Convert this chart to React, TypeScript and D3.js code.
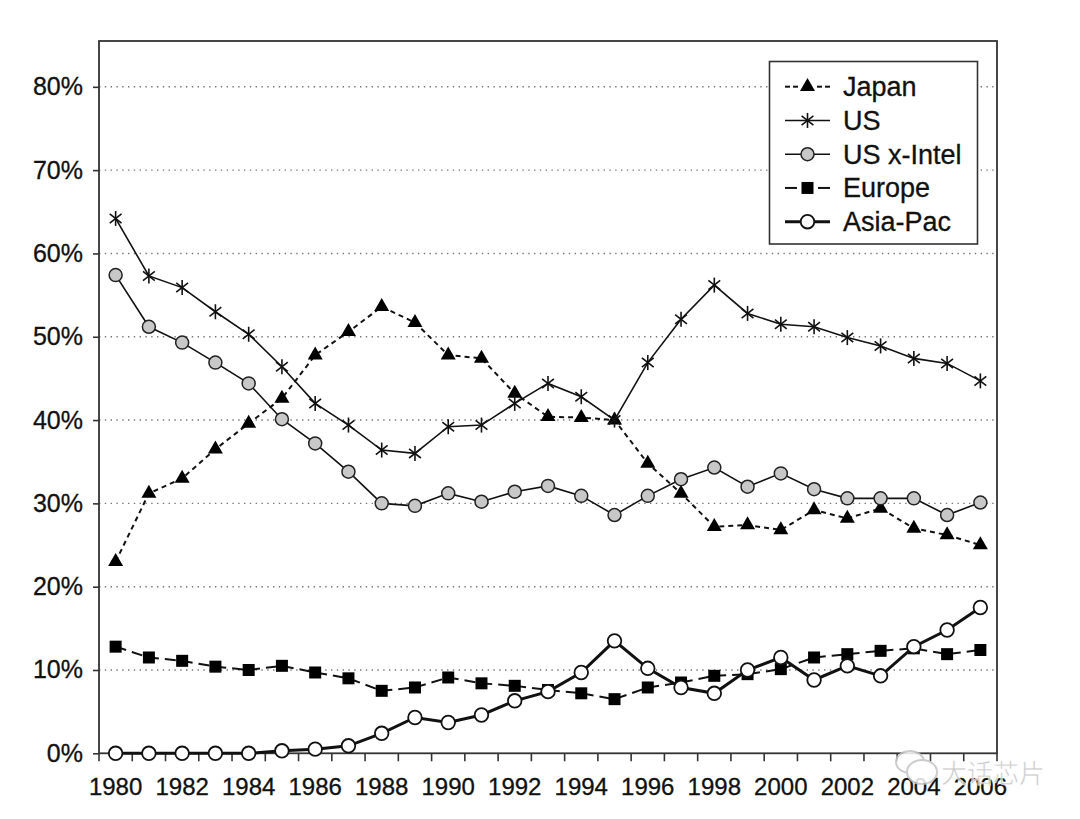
import React, { useEffect, useRef } from "react";
import * as d3 from "d3";

const years = [
  "1980", "1981", "1982", "1983", "1984", "1985", "1986", "1987", "1988",
  "1989", "1990", "1991", "1992", "1993", "1994", "1995", "1996", "1997",
  "1998", "1999", "2000", "2001", "2002", "2003", "2004", "2005", "2006",
];
const yearLabels = years.filter((_, i) => i % 2 === 0);
const yTicks = [0, 0.1, 0.2, 0.3, 0.4, 0.5, 0.6, 0.7, 0.8];

// share of world semiconductor sales, percent
const japan = [23.0, 31.2, 33.0, 36.5, 39.6, 42.6, 47.8, 50.6, 53.6, 51.7, 47.8, 47.4, 43.2, 40.4, 40.3, 40.0, 34.8, 31.2, 27.2, 27.4, 26.8, 29.2, 28.2, 29.4, 27.0, 26.2, 25.0];
const us = [64.2, 57.3, 55.9, 53.0, 50.3, 46.4, 42.0, 39.4, 36.4, 36.0, 39.2, 39.4, 42.0, 44.4, 42.8, 40.0, 46.9, 52.1, 56.2, 52.8, 51.5, 51.2, 49.9, 48.9, 47.4, 46.8, 44.7];
const usXIntel = [57.4, 51.2, 49.3, 46.9, 44.4, 40.1, 37.2, 33.8, 30.0, 29.7, 31.2, 30.2, 31.4, 32.1, 30.9, 28.6, 30.9, 32.9, 34.3, 32.0, 33.6, 31.7, 30.6, 30.6, 30.6, 28.6, 30.1];
const europe = [12.8, 11.5, 11.1, 10.4, 10.0, 10.5, 9.7, 9.0, 7.5, 7.9, 9.1, 8.4, 8.1, 7.6, 7.2, 6.5, 7.9, 8.5, 9.3, 9.5, 10.1, 11.5, 11.9, 12.3, 12.6, 11.9, 12.4];
const asiaPac = [0, 0, 0, 0, 0, 0.3, 0.5, 0.9, 2.4, 4.3, 3.7, 4.6, 6.3, 7.4, 9.7, 13.5, 10.2, 7.9, 7.2, 10.0, 11.5, 8.8, 10.5, 9.3, 12.8, 14.8, 17.5];

type Marker = "triangle" | "asterisk" | "grayCircle" | "square" | "whiteCircle";
type Series = {
  name: string;
  values: number[];
  marker: Marker;
  dash: string | null;
  width: number;
};

const series: Series[] = [
  { name: "Japan", values: japan, marker: "triangle", dash: "5,4", width: 2 },
  { name: "US", values: us, marker: "asterisk", dash: null, width: 1.6 },
  { name: "US x-Intel", values: usXIntel, marker: "grayCircle", dash: null, width: 1.6 },
  { name: "Europe", values: europe, marker: "square", dash: "11,6", width: 2 },
  { name: "Asia-Pac", values: asiaPac, marker: "whiteCircle", dash: null, width: 3 },
];

const FONT = "'Liberation Sans', Arial, Helvetica, sans-serif";

const drawMarker = (
  g: d3.Selection<SVGGElement, unknown, null, undefined>,
  kind: Marker,
  cx: number,
  cy: number
) => {
  if (kind === "triangle") {
    const s = 15;
    const h = (s * Math.sqrt(3)) / 2;
    g.append("path")
      .attr(
        "d",
        `M${cx},${cy - (2 * h) / 3}L${cx + s / 2},${cy + h / 3}L${cx - s / 2},${cy + h / 3}Z`
      )
      .attr("fill", "#000");
  } else if (kind === "asterisk") {
    const r = 7.5;
    [90, 38, 142].forEach((a) => {
      const rad = (a * Math.PI) / 180;
      g.append("line")
        .attr("x1", cx - r * Math.cos(rad))
        .attr("y1", cy - r * Math.sin(rad))
        .attr("x2", cx + r * Math.cos(rad))
        .attr("y2", cy + r * Math.sin(rad))
        .attr("stroke", "#111")
        .attr("stroke-width", 1.6);
    });
  } else if (kind === "grayCircle") {
    g.append("circle")
      .attr("cx", cx)
      .attr("cy", cy)
      .attr("r", 6.5)
      .attr("fill", "#c8c8c8")
      .attr("stroke", "#222")
      .attr("stroke-width", 1.5);
  } else if (kind === "square") {
    const s = 12;
    g.append("rect")
      .attr("x", cx - s / 2)
      .attr("y", cy - s / 2)
      .attr("width", s)
      .attr("height", s)
      .attr("fill", "#000");
  } else {
    g.append("circle")
      .attr("cx", cx)
      .attr("cy", cy)
      .attr("r", 6.8)
      .attr("fill", "#fff")
      .attr("stroke", "#111")
      .attr("stroke-width", 1.8);
  }
};

const App: React.FC = () => {
  const svgRef = useRef<SVGSVGElement>(null);
  const width = 1080;
  const height = 819;
  const plot = { left: 99, right: 997, top: 41, bottom: 753.3 };

  useEffect(() => {
    const svg = d3.select(svgRef.current);
    svg.selectAll("*").remove();

    const x = d3.scaleBand().domain(years).range([plot.left, plot.right]);
    const cxOf = (yr: string) => (x(yr) as number) + x.bandwidth() / 2;
    const y = d3.scaleLinear().domain([0, 0.855]).range([plot.bottom, plot.top]);

    // dotted gridlines
    svg.append("g")
      .selectAll("line")
      .data(yTicks.filter((t) => t > 0))
      .enter()
      .append("line")
      .attr("x1", plot.left)
      .attr("x2", plot.right)
      .attr("y1", (d) => y(d))
      .attr("y2", (d) => y(d))
      .attr("stroke", "#777")
      .attr("stroke-width", 1.4)
      .attr("stroke-dasharray", "1.4,4.4");

    // y axis
    const yAxis = svg.append("g")
      .attr("transform", `translate(${plot.left},0)`)
      .call(
        d3.axisLeft(y)
          .tickValues(yTicks)
          .tickFormat(d3.format(".0%"))
          .tickSize(6)
          .tickPadding(10)
      );
    yAxis.select(".domain").remove();
    yAxis.selectAll("line").attr("stroke", "#333").attr("stroke-width", 1.6);
    yAxis.selectAll("text")
      .attr("font-family", FONT)
      .attr("font-size", 25)
      .attr("fill", "#111")
      .attr("stroke", "#111")
      .attr("stroke-width", 0.3);

    // x ticks on band edges
    const edges = years.map((yr) => x(yr) as number).concat([plot.right]);
    svg.append("g")
      .selectAll("line")
      .data(edges)
      .enter()
      .append("line")
      .attr("x1", (d) => d)
      .attr("x2", (d) => d)
      .attr("y1", plot.bottom)
      .attr("y2", plot.bottom + 8)
      .attr("stroke", "#333")
      .attr("stroke-width", 1.6);

    svg.append("g")
      .selectAll("text")
      .data(yearLabels)
      .enter()
      .append("text")
      .attr("x", (d) => cxOf(d))
      .attr("y", 795)
      .attr("text-anchor", "middle")
      .attr("font-family", FONT)
      .attr("font-size", 24)
      .attr("fill", "#111")
      .attr("stroke", "#111")
      .attr("stroke-width", 0.3)
      .text((d) => d);

    // frame
    svg.append("rect")
      .attr("x", plot.left)
      .attr("y", plot.top)
      .attr("width", plot.right - plot.left)
      .attr("height", plot.bottom - plot.top)
      .attr("fill", "none")
      .attr("stroke", "#333")
      .attr("stroke-width", 1.8);

    // series
    series.forEach((s) => {
      const g = svg.append("g");
      const line = d3.line<number>()
        .x((_, i) => cxOf(years[i]))
        .y((d) => y(d / 100));
      g.append("path")
        .datum(s.values)
        .attr("d", line)
        .attr("fill", "none")
        .attr("stroke", "#111")
        .attr("stroke-width", s.width)
        .attr("stroke-dasharray", s.dash ?? null);
      s.values.forEach((v, i) => drawMarker(g, s.marker, cxOf(years[i]), y(v / 100)));
    });

    // legend
    const lg = svg.append("g");
    lg.append("rect")
      .attr("x", 769.5)
      .attr("y", 61.5)
      .attr("width", 208)
      .attr("height", 182.5)
      .attr("fill", "#fff")
      .attr("stroke", "#333")
      .attr("stroke-width", 1.6);
    const rowY = d3.scalePoint<string>()
      .domain(series.map((s) => s.name))
      .range([86.7, 221.7]);
    series.forEach((s) => {
      const ry = rowY(s.name) as number;
      const segs: [number, number][] =
        s.marker === "triangle"
          ? [[785, 790], [793, 798], [817, 822], [825, 830]]
          : s.marker === "square"
            ? [[785, 797], [818, 830]]
            : [[785, 830]];
      segs.forEach(([a, b]) => {
        lg.append("line")
          .attr("x1", a)
          .attr("x2", b)
          .attr("y1", ry)
          .attr("y2", ry)
          .attr("stroke", "#111")
          .attr("stroke-width", s.width);
      });
      const mg = lg.append("g");
      drawMarker(mg, s.marker, 807.5, ry);
      lg.append("text")
        .attr("x", 843)
        .attr("y", ry)
        .attr("dy", "0.35em")
        .attr("font-family", FONT)
        .attr("font-size", 27)
        .attr("fill", "#111")
        .attr("stroke", "#111")
        .attr("stroke-width", 0.3)
        .text(s.name);
    });

    // watermark
    const wm = svg.append("g").attr("opacity", 0.85);
    wm.append("ellipse")
      .attr("cx", 910).attr("cy", 762).attr("rx", 14).attr("ry", 11)
      .attr("fill", "#fff").attr("stroke", "#c4c4c4").attr("stroke-width", 2);
    wm.append("ellipse")
      .attr("cx", 922).attr("cy", 772).attr("rx", 15).attr("ry", 12)
      .attr("fill", "#fff").attr("stroke", "#c4c4c4").attr("stroke-width", 2);
    wm.append("text")
      .attr("x", 941)
      .attr("y", 783)
      .attr("font-family", "'Noto Sans CJK SC', sans-serif")
      .attr("font-size", 26)
      .attr("fill", "#c4c4c4")
      .attr("stroke", "#fff")
      .attr("stroke-width", 0.6)
      .text("大话芯片");
  }, []);

  return (
    <svg
      ref={svgRef}
      width={width}
      height={height}
      viewBox={`0 0 ${width} ${height}`}
      style={{ position: "absolute", left: 0, top: 0, background: "#fff" }}
    ></svg>
  );
};

export default App;
